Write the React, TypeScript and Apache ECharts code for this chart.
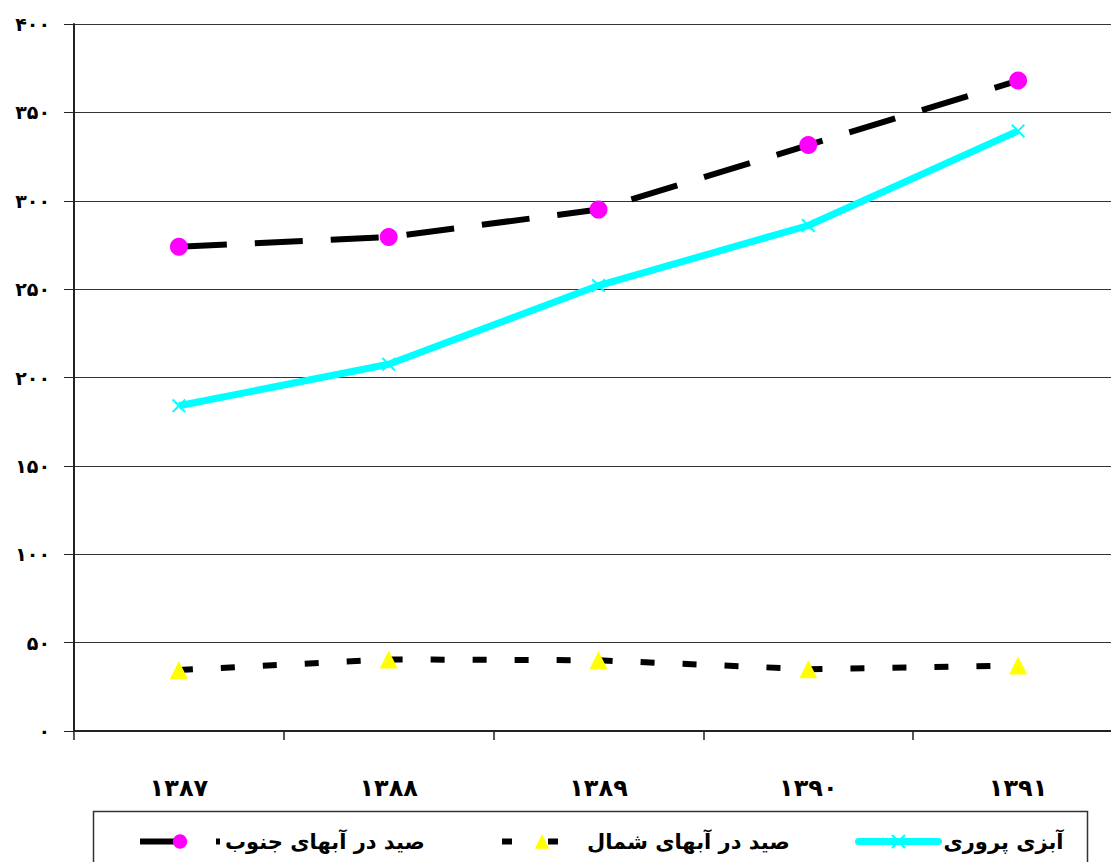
import React, { useEffect, useRef } from "react";
import * as echarts from "echarts";

const categories = ["۱۳۸۷", "۱۳۸۸", "۱۳۸۹", "۱۳۹۰", "۱۳۹۱"];
const southName = "صید در آبهای جنوب";
const northName = "صید در آبهای شمال";
const aquaName = "آبزی پروری";
const southValues = [274, 279.5, 295, 331.5, 368];
const northValues = [34.5, 40.5, 40, 35, 37];
const aquaValues = [184, 207.5, 252, 286, 339.5];

const faDigits = "۰۱۲۳۴۵۶۷۸۹";
const toFa = (v: number | string) =>
  String(v).replace(/[0-9]/g, (d) => faDigits[Number(d)]);

const FONT = "'DejaVu Sans', sans-serif";
const crossPath =
  "path://M1,0L5,4L9,0L10,1L6,5L10,9L9,10L5,6L1,10L0,9L4,5L0,1Z";

export default function App() {
  const ref = useRef<HTMLDivElement>(null);
  useEffect(() => {
    if (!ref.current) return;
    const chart = echarts.init(ref.current, null, { renderer: "svg" });
    const legendBase = {
      orient: "horizontal",
      top: 826,
      itemWidth: 80,
      itemHeight: 18,
      textStyle: { fontFamily: FONT, fontSize: 21, fontWeight: "bold", color: "#000" },
      selectedMode: false,
    };
    chart.setOption({
      animation: false,
      backgroundColor: "#fff",
      grid: { left: 74, top: 24, width: 1049, height: 707, containLabel: false },
      legend: [
        {
          ...legendBase,
          left: 132,
          data: [southName],
          lineStyle: { width: 6, color: "#000", type: [36, 40] },
        },
        {
          ...legendBase,
          left: 494,
          data: [northName],
          lineStyle: { width: 6, color: "#000", type: [10, 36] },
        },
        {
          ...legendBase,
          left: 850,
          data: [aquaName],
          lineStyle: { width: 7, color: "#00ffff", cap: "round" },
        },
      ],
      graphic: [
        {
          type: "rect",
          shape: { x: 93.5, y: 811.5, width: 994, height: 80 },
          style: { fill: "none", stroke: "#333", lineWidth: 1.5 },
          silent: true,
        },
      ],
      xAxis: {
        type: "category",
        data: categories,
        boundaryGap: true,
        axisLine: { lineStyle: { color: "#222", width: 2 } },
        axisTick: { show: true, alignWithLabel: false, length: 9, lineStyle: { color: "#222", width: 1.5 } },
        axisLabel: { fontFamily: FONT, fontSize: 24, fontWeight: "bold", color: "#000", margin: 45 },
        splitLine: { show: false },
      },
      yAxis: {
        type: "value",
        min: 0,
        max: 400,
        interval: 50,
        axisLine: { show: true, lineStyle: { color: "#222", width: 2 } },
        axisTick: { show: true, length: 10, lineStyle: { color: "#222", width: 1 } },
        axisLabel: {
          fontFamily: FONT,
          fontSize: 19,
          fontWeight: "bold",
          color: "#000",
          margin: 24,
          formatter: (v: number) => toFa(v),
        },
        splitLine: { show: true, lineStyle: { color: "#333", width: 1 } },
      },
      series: [
        {
          name: southName,
          type: "line",
          data: southValues,
          symbol: "circle",
          symbolSize: 18,
          showAllSymbol: true,
          lineStyle: { color: "#000", width: 6, type: [48, 28] },
          itemStyle: { color: "#ff00ff" },
          z: 3,
        },
        {
          name: northName,
          type: "line",
          data: northValues,
          symbol: "triangle",
          symbolSize: 18,
          lineStyle: { color: "#000", width: 6, type: [14, 28] },
          itemStyle: { color: "#ffff00" },
          z: 3,
        },
        {
          name: aquaName,
          type: "line",
          data: aquaValues,
          symbol: crossPath,
          symbolSize: 14,
          lineStyle: { color: "#00ffff", width: 7 },
          itemStyle: { color: "#00ffff" },
          z: 2,
        },
      ],
    });
    return () => chart.dispose();
  }, []);
  return (
    <div
      style={{
        position: "fixed",
        left: 0,
        top: 0,
        width: 1111,
        height: 862,
        overflow: "hidden",
        background: "#fff",
      }}
    >
      <div ref={ref} style={{ width: 1130, height: 862 }} />
    </div>
  );
}
